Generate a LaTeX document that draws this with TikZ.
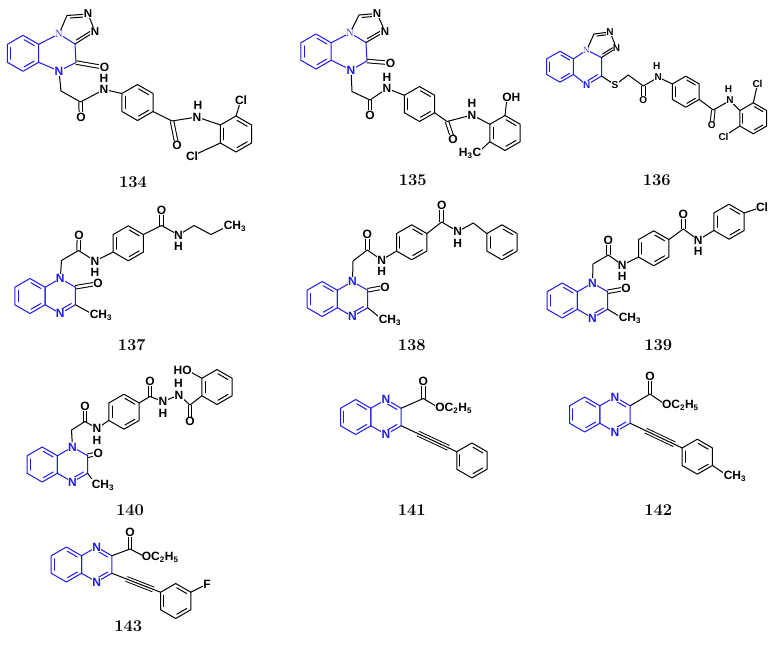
\documentclass[tikz,border=0pt]{standalone}
\usepackage{fontspec}
\setsansfont{Liberation Sans}
\usetikzlibrary{calc}
\definecolor{qb}{RGB}{30,26,235}
\newcommand\hexv[3]{\coordinate (#1c) at (#2);%
  \foreach \hv in {1,...,6}{\coordinate (#1\hv) at ($(#1c)+({30+60*(\hv-1)}:#3)$);}}
\newcommand\hexdraw[2][]{\draw[bd,#1] (#21)--(#22)--(#23)--(#24)--(#25)--(#26)--cycle;}
\newcommand\inl[4][]{\draw[bd,#1,shorten <=1.2pt,shorten >=1.2pt] ($(#2)!0.79!(#3)$)--($(#2)!0.79!(#4)$);}
\newcommand\arom[2][]{\inl[#1]{#2c}{#21}{#22}\inl[#1]{#2c}{#23}{#24}\inl[#1]{#2c}{#25}{#26}}
\newcommand\sbs[1]{\textsubscript{#1}}
\tikzset{
  bd/.style={line width=1pt,line join=round,line cap=round},
  dbl/.style={line width=1pt,double,double distance=2.5pt},
  trp/.style={line width=0.95pt,double,double distance=4pt},
  lab/.style={font=\fontsize{12}{13}\selectfont\sffamily\bfseries,fill=white,inner sep=0.4pt},
  labt/.style={lab,font=\fontsize{11.5}{12}\selectfont\sffamily\bfseries},
  labs/.style={lab,font=\fontsize{10}{11}\selectfont\sffamily\bfseries},
  labq/.style={lab,text=qb},
  labsq/.style={labs,text=qb},
  labbr/.style={font=\fontsize{10.5}{11}\selectfont\rmfamily,text=qb,fill=white,inner sep=0.2pt},
  labbrs/.style={labbr,font=\fontsize{9}{9}\selectfont\rmfamily},
  num/.style={font=\fontsize{16.5}{17}\selectfont\rmfamily\bfseries},
}
\begin{document}
\begin{tikzpicture}[x=1pt,y=-1pt]
\fill[white] (0,0) rectangle (775,653);
\useasboundingbox (0,0) rectangle (775,653);
% ================= 134
\hexv{aB}{23,53.3}{18}
\coordinate (aNb) at (59,34);
\coordinate (aC3a) at (75,44);
\coordinate (aC4) at (76,62.5);
\coordinate (aN5) at (59,71);
\coordinate (aCH) at (67,15.5);
\coordinate (aNt) at (88,14);
\coordinate (aNr) at (95,31.5);
\coordinate (aTc) at (76.8,27.8);
\coordinate (aO) at (104.5,67.5);
\coordinate (aM) at (61,91);
\coordinate (aK1) at (80.5,102);
\coordinate (aO1) at (81,117);
\coordinate (aN1) at (104,89.5);
\coordinate (aH1) at (104,78);
\hexv{aP}{137.5,102.5}{18}
\coordinate (aK2) at (172,121);
\coordinate (aO2) at (177,145.5);
\coordinate (aN2) at (197,117);
\coordinate (aH2) at (198,105.5);
\hexv{aQ}{236,134}{18}
\coordinate (aCl1) at (241,100);
\coordinate (aCl2) at (192,156);
\draw[dbl] (aC4)--(aO);
\draw[dbl] (aK1)--(aO1);
\draw[dbl] (aK2)--(aO2);
\hexdraw[qb]{aB}\arom[qb]{aB}
\draw[bd,qb] (aB6)--(aNb)--(aC3a)--(aC4)--(aN5)--(aB1);
\draw[bd] (aNb)--(aCH)--(aNt)--(aNr)--(aC3a);
\inl{aTc}{aCH}{aNt}\inl{aTc}{aNr}{aC3a}
\draw[bd] (aN5)--(aM)--(aK1)--(aN1)--(aP4);
\hexdraw{aP}\arom{aP}
\draw[bd] (aP1)--(aK2)--(aN2)--(aQ4);
\hexdraw{aQ}\arom{aQ}
\draw[bd] (aQ5)--(aCl1);
\draw[bd] (aQ3)--(aCl2);
\node[labbr] (aLNb) at (aNb) {N};
\node[labq] (aLN5) at (aN5) {N};
\node[labt] (aLNt) at (aNt) {N};
\node[labt] (aLNr) at (aNr) {N};
\node[lab] (aLO) at (aO) {O};
\node[lab] (aLO1) at (aO1) {O};
\node[lab] (aLN1) at (aN1) {N};
\node[lab] (aLH1) at (aH1) {H};
\node[lab] (aLO2) at (aO2) {O};
\node[lab] (aLN2) at (aN2) {N};
\node[lab] (aLH2) at (aH2) {H};
\node[lab] (aLCl1) at (aCl1) {Cl};
\node[lab] (aLCl2) at (aCl2) {Cl};
\node[num] (aNum) at (133,182) {134};
% ================= 135
\hexv{bB}{316,51.5}{17.5}
\coordinate (bNb) at (350,33);
\coordinate (bC3a) at (366,42.5);
\coordinate (bC4) at (367,61);
\coordinate (bN5) at (351,70);
\coordinate (bCH) at (359,15);
\coordinate (bNt) at (377,13.5);
\coordinate (bNr) at (385,31.5);
\coordinate (bTc) at (367.4,27.1);
\coordinate (bO) at (390.5,63);
\coordinate (bM) at (352,91.5);
\coordinate (bK1) at (370,100);
\coordinate (bO1) at (370,115);
\coordinate (bN1) at (387,88.5);
\coordinate (bH1) at (387,77);
\hexv{bP}{419.5,104}{17.5}
\coordinate (bK2) at (447,121.5);
\coordinate (bO2) at (453,139.5);
\coordinate (bN2) at (472,115);
\coordinate (bH2) at (472,103.5);
\hexv{bQ}{505,133}{17.5}
\coordinate (bOH) at (507,97);
\coordinate (bMe) at (477,153.5);
\draw[dbl] (bC4)--(bO);
\draw[dbl] (bK1)--(bO1);
\draw[dbl] (bK2)--(bO2);
\hexdraw[qb]{bB}\arom[qb]{bB}
\draw[bd,qb] (bB6)--(bNb)--(bC3a)--(bC4)--(bN5)--(bB1);
\draw[bd] (bNb)--(bCH)--(bNt)--(bNr)--(bC3a);
\inl{bTc}{bCH}{bNt}\inl{bTc}{bNr}{bC3a}
\draw[bd] (bN5)--(bM)--(bK1)--(bN1)--(bP4);
\hexdraw{bP}\arom{bP}
\draw[bd] (bP1)--(bK2)--(bN2)--(bQ4);
\hexdraw{bQ}\arom{bQ}
\draw[bd] (bQ5)--(bOH);
\draw[bd] (bQ3)--(bMe);
\node[labbr] (bLNb) at (bNb) {N};
\node[labq] (bLN5) at (bN5) {N};
\node[labt] (bLNt) at (bNt) {N};
\node[labt] (bLNr) at (bNr) {N};
\node[lab] (bLO) at (bO) {O};
\node[lab] (bLO1) at (bO1) {O};
\node[lab] (bLN1) at (bN1) {N};
\node[lab] (bLH1) at (bH1) {H};
\node[lab] (bLO2) at (bO2) {O};
\node[lab] (bLN2) at (bN2) {N};
\node[lab] (bLH2) at (bH2) {H};
\node[lab,anchor=west] (bLOH) at ($(bOH)+(-5.2,0)$) {OH};
\node[lab,anchor=east] (bLMe) at ($(bMe)+(4.8,0)$) {H\sbs{3}C};
\node[num] (bNum) at (412.7,180) {135};
% ================= 136
\hexv{cB}{560,66.7}{15.5}
\coordinate (cNb) at (586.7,50);
\coordinate (cC3a) at (601.5,57.5);
\coordinate (cC4) at (601.5,76);
\coordinate (cN5) at (586.7,85);
\coordinate (cYc) at (587.2,67);
\coordinate (cCH) at (594,34);
\coordinate (cNt) at (610,32);
\coordinate (cNr) at (616.5,48);
\coordinate (cTc) at (601.7,44.3);
\coordinate (cS) at (615,85);
\coordinate (cM) at (628.3,75);
\coordinate (cK1) at (643.3,86);
\coordinate (cO1) at (643.3,100);
\coordinate (cN1) at (658.3,77.3);
\coordinate (cH1) at (656.7,66);
\hexv{cP}{685.8,91.7}{15.5}
\coordinate (cK2) at (713.3,110);
\coordinate (cO2) at (711.7,125.5);
\coordinate (cN2) at (730,100.5);
\coordinate (cH2) at (728.5,89.5);
\hexv{cQ}{753.3,118.3}{15.5}
\coordinate (cCl1) at (757.5,84);
\coordinate (cCl2) at (723.5,136.5);
\draw[dbl] (cK1)--(cO1);
\draw[dbl] (cK2)--(cO2);
\hexdraw[qb]{cB}\arom[qb]{cB}
\draw[bd,qb] (cB6)--(cNb)--(cC3a)--(cC4)--(cN5)--(cB1);
\inl[qb]{cYc}{cC4}{cN5}
\draw[bd] (cNb)--(cCH)--(cNt)--(cNr)--(cC3a);
\inl{cTc}{cCH}{cNt}\inl{cTc}{cNr}{cC3a}
\draw[bd] (cC4)--(cS)--(cM)--(cK1)--(cN1)--(cP4);
\hexdraw{cP}\arom{cP}
\draw[bd] (cP1)--(cK2)--(cN2)--(cQ4);
\hexdraw{cQ}\arom{cQ}
\draw[bd] (cQ5)--(cCl1);
\draw[bd] (cQ3)--(cCl2);
\node[labbrs] (cLNb) at (cNb) {N};
\node[labsq] (cLN5) at (cN5) {N};
\node[labs] (cLNt) at (cNt) {N};
\node[labs] (cLNr) at (cNr) {N};
\node[labs] (cLS) at (cS) {S};
\node[labs] (cLO1) at (cO1) {O};
\node[labs] (cLN1) at (cN1) {N};
\node[labs] (cLH1) at (cH1) {H};
\node[labs] (cLO2) at (cO2) {O};
\node[labs] (cLN2) at (cN2) {N};
\node[labs] (cLH2) at (cH2) {H};
\node[labs] (cLCl1) at (cCl1) {Cl};
\node[labs] (cLCl2) at (cCl2) {Cl};
\node[num] (cNum) at (656.7,180) {136};
% ================= 137
\hexv{dB}{30,296}{17.5}
\hexv{dY}{60.3,296}{17.5}
\coordinate (dO) at (98,283.5);
\coordinate (dMe) at (94,315);
\coordinate (dM) at (61.5,260.5);
\coordinate (dK1) at (78.5,250.5);
\coordinate (dO1) at (79,235);
\coordinate (dN1) at (95,261);
\coordinate (dH1) at (95,272.5);
\hexv{dP}{128.3,243.3}{17.5}
\coordinate (dK2) at (161.5,225.5);
\coordinate (dO2) at (161.5,210);
\coordinate (dN2) at (178.5,235);
\coordinate (dH2) at (178.5,246.5);
\coordinate (dCa) at (194,225.5);
\coordinate (dCb) at (211,234.5);
\coordinate (dMe2) at (228,226);
\draw[dbl] (dY6)--(dO);
\draw[dbl] (dK1)--(dO1);
\draw[dbl] (dK2)--(dO2);
\hexdraw[qb]{dB}\arom[qb]{dB}
\hexdraw[qb]{dY}\inl[qb]{dYc}{dY1}{dY2}
\draw[bd] (dY1)--(dMe);
\draw[bd] (dY5)--(dM)--(dK1)--(dN1)--(dP3);
\hexdraw{dP}\arom{dP}
\draw[bd] (dP6)--(dK2)--(dN2)--(dCa)--(dCb)--(dMe2);
\node[labq] (dLN1) at (dY5) {N};
\node[labq] (dLN4) at (dY2) {N};
\node[lab] (dLO) at (dO) {O};
\node[lab,anchor=west] (dLMe) at ($(dMe)+(-4.8,0)$) {CH\sbs{3}};
\node[lab] (dLO1) at (dO1) {O};
\node[lab] (dLNa) at (dN1) {N};
\node[lab] (dLHa) at (dH1) {H};
\node[lab] (dLO2) at (dO2) {O};
\node[lab] (dLNb) at (dN2) {N};
\node[lab] (dLHb) at (dH2) {H};
\node[lab,anchor=west] (dLMe2) at ($(dMe2)+(-4.8,0)$) {CH\sbs{3}};
\node[num] (dNum) at (131.7,345) {137};
% ================= 138
\hexv{eB}{322.2,299}{17.5}
\hexv{eY}{352.5,299}{17.5}
\coordinate (eO) at (385,287);
\coordinate (eMe) at (383,320);
\coordinate (eM) at (353,261);
\coordinate (eK1) at (367.3,250);
\coordinate (eO1) at (367.3,234);
\coordinate (eN1) at (381.7,260);
\coordinate (eH1) at (381.7,271.5);
\hexv{eP}{411.7,242.3}{17.5}
\coordinate (eK2) at (441.7,222);
\coordinate (eO2) at (441.7,205.5);
\coordinate (eN2) at (457.7,231.5);
\coordinate (eH2) at (457.7,243);
\coordinate (eM2) at (473.3,223);
\hexv{eR}{502,242.3}{17.5}
\draw[dbl] (eY6)--(eO);
\draw[dbl] (eK1)--(eO1);
\draw[dbl] (eK2)--(eO2);
\hexdraw[qb]{eB}\arom[qb]{eB}
\hexdraw[qb]{eY}\inl[qb]{eYc}{eY1}{eY2}
\draw[bd] (eY1)--(eMe);
\draw[bd] (eY5)--(eM)--(eK1)--(eN1)--(eP3);
\hexdraw{eP}\arom{eP}
\draw[bd] (eP6)--(eK2)--(eN2)--(eM2)--(eR4);
\hexdraw{eR}\arom{eR}
\node[labq] (eLN1) at (eY5) {N};
\node[labq] (eLN4) at (eY2) {N};
\node[lab] (eLO) at (eO) {O};
\node[lab,anchor=west] (eLMe) at ($(eMe)+(-4.8,0)$) {CH\sbs{3}};
\node[lab] (eLO1) at (eO1) {O};
\node[lab] (eLNa) at (eN1) {N};
\node[lab] (eLHa) at (eH1) {H};
\node[lab] (eLO2) at (eO2) {O};
\node[lab] (eLNb) at (eN2) {N};
\node[lab] (eLHb) at (eH2) {H};
\node[num] (eNum) at (411.7,345) {138};
% ================= 139
\hexv{fB}{562.2,300.5}{17.5}
\hexv{fY}{592.5,300.5}{17.5}
\coordinate (fO) at (626,288.5);
\coordinate (fMe) at (623,318.5);
\coordinate (fM) at (593,264);
\coordinate (fK1) at (608.3,255);
\coordinate (fO1) at (608.3,240);
\coordinate (fN1) at (622.3,265);
\coordinate (fH1) at (622.3,276.5);
\hexv{fP}{653.7,248.3}{17.5}
\coordinate (fK2) at (683.3,229);
\coordinate (fO2) at (683.3,214);
\coordinate (fN2) at (698.3,240);
\coordinate (fH2) at (698.3,251.5);
\hexv{fQ}{729,221.7}{17.5}
\coordinate (fCl) at (762,207);
\draw[dbl] (fY6)--(fO);
\draw[dbl] (fK1)--(fO1);
\draw[dbl] (fK2)--(fO2);
\hexdraw[qb]{fB}\arom[qb]{fB}
\hexdraw[qb]{fY}\inl[qb]{fYc}{fY1}{fY2}
\draw[bd] (fY1)--(fMe);
\draw[bd] (fY5)--(fM)--(fK1)--(fN1)--(fP3);
\hexdraw{fP}\arom{fP}
\draw[bd] (fP6)--(fK2)--(fN2)--(fQ3);
\hexdraw{fQ}\arom{fQ}
\draw[bd] (fQ6)--(fCl);
\node[labq] (fLN1) at (fY5) {N};
\node[labq] (fLN4) at (fY2) {N};
\node[lab] (fLO) at (fO) {O};
\node[lab,anchor=west] (fLMe) at ($(fMe)+(-4.8,0)$) {CH\sbs{3}};
\node[lab] (fLO1) at (fO1) {O};
\node[lab] (fLNa) at (fN1) {N};
\node[lab] (fLHa) at (fH1) {H};
\node[lab] (fLO2) at (fO2) {O};
\node[lab] (fLNb) at (fN2) {N};
\node[lab] (fLHb) at (fH2) {H};
\node[lab] (fLCl) at (fCl) {Cl};
\node[num] (fNum) at (658.3,345) {139};
% ================= 140
\hexv{gB}{42.2,464.5}{17.5}
\hexv{gY}{72.5,464.5}{17.5}
\coordinate (gO) at (98.3,453.3);
\coordinate (gMe) at (96,485);
\coordinate (gM) at (71.5,430);
\coordinate (gK1) at (85,421.5);
\coordinate (gO1) at (85,406.5);
\coordinate (gN1) at (97,428.5);
\coordinate (gH1) at (97,440);
\hexv{gP}{124,411.7}{17.5}
\coordinate (gK2) at (150,396.5);
\coordinate (gO2) at (150,381);
\coordinate (gNA) at (163,401.5);
\coordinate (gHA) at (163,413);
\coordinate (gNB) at (179,395);
\coordinate (gHB) at (178.5,383.5);
\coordinate (gK3) at (190,405);
\coordinate (gO3) at (190,421.5);
\hexv{gR}{217,387}{17.5}
\coordinate (gOH) at (187,370);
\draw[dbl] (gY6)--(gO);
\draw[dbl] (gK1)--(gO1);
\draw[dbl] (gK2)--(gO2);
\draw[dbl] (gK3)--(gO3);
\hexdraw[qb]{gB}\arom[qb]{gB}
\hexdraw[qb]{gY}\inl[qb]{gYc}{gY1}{gY2}
\draw[bd] (gY1)--(gMe);
\draw[bd] (gY5)--(gM)--(gK1)--(gN1)--(gP3);
\hexdraw{gP}\arom{gP}
\draw[bd] (gP6)--(gK2)--(gNA)--(gNB)--(gK3)--(gR3);
\hexdraw{gR}\arom{gR}
\draw[bd] (gR4)--(gOH);
\node[labq] (gLN1) at (gY5) {N};
\node[labq] (gLN4) at (gY2) {N};
\node[lab] (gLO) at (gO) {O};
\node[lab,anchor=west] (gLMe) at ($(gMe)+(-4.8,0)$) {CH\sbs{3}};
\node[lab] (gLO1) at (gO1) {O};
\node[lab] (gLNa) at (gN1) {N};
\node[lab] (gLHa) at (gH1) {H};
\node[lab] (gLO2) at (gO2) {O};
\node[lab] (gLNA) at (gNA) {N};
\node[lab] (gLHA) at (gHA) {H};
\node[lab] (gLNB) at (gNB) {N};
\node[lab] (gLHB) at (gHB) {H};
\node[lab] (gLO3) at (gO3) {O};
\node[lab,anchor=east] (gLOH) at ($(gOH)+(5.2,0)$) {HO};
\node[num] (gNum) at (130,510) {140};
% ================= 141
\hexv{hB}{355.7,417}{17.5}
\hexv{hY}{386,417}{17.5}
\coordinate (hK) at (423.3,398.5);
\coordinate (hO1) at (423.3,381);
\coordinate (hO2) at (440,408.5);
\hexv{hP}{471.9,460.45}{17.5}
\coordinate (hA1) at ($(hY1)!0.3!(hP4)$);
\coordinate (hA2) at ($(hY1)!0.85!(hP4)$);
\draw[dbl] (hK)--(hO1);
\draw[trp] (hA1)--(hA2);
\hexdraw[qb]{hB}\arom[qb]{hB}
\hexdraw[qb]{hY}\inl[qb]{hYc}{hY1}{hY2}\inl[qb]{hYc}{hY5}{hY6}
\draw[bd] (hY6)--(hK)--(hO2);
\draw[bd] (hY1)--(hP4);
\hexdraw{hP}\arom{hP}
\node[labq] (hLN1) at (hY5) {N};
\node[labq] (hLN4) at (hY2) {N};
\node[lab] (hLO1) at (hO1) {O};
\node[lab,anchor=west] (hLOE) at ($(hO2)+(-5.2,0)$) {OC\sbs{2}H\sbs{5}};
\node[num] (hNum) at (411.7,510) {141};
% ================= 142
\hexv{iB}{584.7,414.5}{17.5}
\hexv{iY}{615,414.5}{17.5}
\coordinate (iK) at (650,394);
\coordinate (iO1) at (650,376.5);
\coordinate (iO2) at (666.7,405.5);
\hexv{iP}{697.3,456.7}{17.5}
\coordinate (iMe) at (728,476);
\coordinate (iA1) at ($(iY1)!0.3!(iP4)$);
\coordinate (iA2) at ($(iY1)!0.85!(iP4)$);
\draw[dbl] (iK)--(iO1);
\draw[trp] (iA1)--(iA2);
\hexdraw[qb]{iB}\arom[qb]{iB}
\hexdraw[qb]{iY}\inl[qb]{iYc}{iY1}{iY2}\inl[qb]{iYc}{iY5}{iY6}
\draw[bd] (iY6)--(iK)--(iO2);
\draw[bd] (iY1)--(iP4);
\hexdraw{iP}\arom{iP}
\draw[bd] (iP1)--(iMe);
\node[labq] (iLN1) at (iY5) {N};
\node[labq] (iLN4) at (iY2) {N};
\node[lab] (iLO1) at (iO1) {O};
\node[lab,anchor=west] (iLOE) at ($(iO2)+(-5.2,0)$) {OC\sbs{2}H\sbs{5}};
\node[lab,anchor=west] (iLMe) at ($(iMe)+(-4.8,0)$) {CH\sbs{3}};
\node[num] (iNum) at (658.3,510) {142};
% ================= 143
\hexv{jB}{66.4,564.5}{17.5}
\hexv{jY}{96.7,564.5}{17.5}
\coordinate (jK) at (130,549);
\coordinate (jO1) at (130,532.5);
\coordinate (jO2) at (146.5,557.5);
\hexv{jP}{175.7,601}{17.5}
\coordinate (jF) at (207,584);
\coordinate (jA1) at ($(jY1)!0.3!(jP4)$);
\coordinate (jA2) at ($(jY1)!0.85!(jP4)$);
\draw[dbl] (jK)--(jO1);
\draw[trp] (jA1)--(jA2);
\hexdraw[qb]{jB}\arom[qb]{jB}
\hexdraw[qb]{jY}\inl[qb]{jYc}{jY1}{jY2}\inl[qb]{jYc}{jY5}{jY6}
\draw[bd] (jY6)--(jK)--(jO2);
\draw[bd] (jY1)--(jP4);
\hexdraw{jP}\arom{jP}
\draw[bd] (jP6)--(jF);
\node[labq] (jLN1) at (jY5) {N};
\node[labq] (jLN4) at (jY2) {N};
\node[lab] (jLO1) at (jO1) {O};
\node[lab,anchor=west] (jLOE) at ($(jO2)+(-5.2,0)$) {OC\sbs{2}H\sbs{5}};
\node[lab] (jLF) at (jF) {F};
\node[num] (jNum) at (128.3,626) {143};
\end{tikzpicture}
\end{document}
